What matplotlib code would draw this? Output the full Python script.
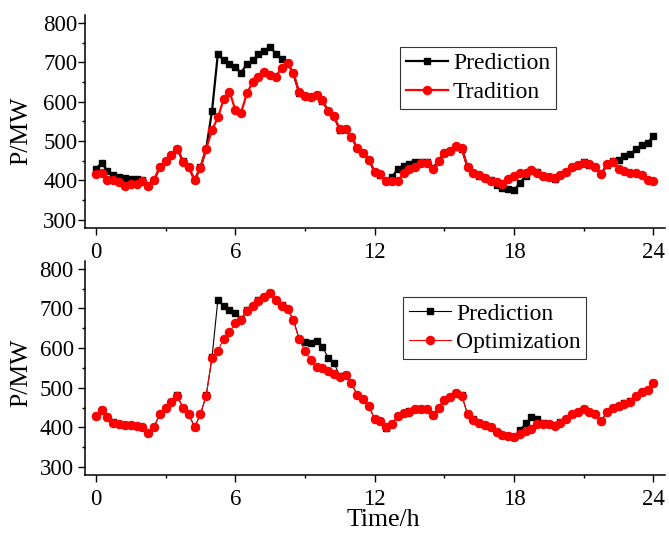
import numpy as np
import matplotlib
matplotlib.use("Agg")
import matplotlib.pyplot as plt
from matplotlib.ticker import MultipleLocator

plt.rcParams['font.family'] = ['Liberation Serif', 'DejaVu Serif']

# time axis, every 15 min
hours = np.arange(97) * 0.25

prediction = [430, 444, 425, 413, 409, 406, 405, 403, 400, 385, 401, 433, 449, 465, 481, 449,
              433, 401, 433, 481, 577, 721, 706, 697, 688, 673, 696, 705, 721, 730, 740, 722,
              708, 698, 672, 623, 615, 613, 617, 603, 576, 563, 529, 531, 511, 482, 471, 453,
              422, 415, 399, 409, 429, 437, 441, 446, 446, 446, 431, 450, 470, 476, 486, 481,
              434, 420, 412, 406, 401, 388, 381, 378, 375, 393, 411, 426, 421, 411, 408, 405,
              413, 422, 434, 439, 446, 440, 434, 416, 440, 449, 453, 461, 466, 479, 489, 495,
              512]

tradition = [416, 420, 400, 400, 397, 387, 390, 392, 398, 386, 401, 433, 449, 464, 481, 448,
             433, 401, 432, 481, 528, 560, 606, 626, 580, 572, 621, 650, 663, 675, 668, 664,
             687, 698, 674, 624, 615, 612, 616, 604, 577, 563, 530, 531, 511, 483, 471, 453,
             422, 416, 398, 398, 398, 419, 429, 434, 444, 444, 430, 449, 470, 476, 487, 482,
             435, 420, 414, 407, 398, 397, 390, 403, 412, 418, 420, 426, 418, 412, 409, 407,
             415, 422, 435, 439, 445, 441, 435, 416, 441, 447, 430, 425, 420, 418, 414, 402,
             398]

optimization = [430, 444, 425, 412, 408, 405, 406, 403, 400, 385, 401, 433, 449, 465, 480, 449,
                433, 401, 433, 480, 576, 592, 624, 640, 663, 672, 694, 705, 720, 730, 738, 721,
                707, 698, 671, 622, 592, 569, 553, 549, 543, 534, 528, 531, 511, 482, 472, 454,
                422, 415, 400, 408, 429, 437, 440, 446, 447, 447, 432, 450, 470, 476, 486, 480,
                433, 419, 411, 405, 402, 388, 382, 379, 376, 384, 391, 397, 409, 409, 408, 404,
                412, 422, 434, 439, 446, 440, 434, 416, 439, 449, 453, 460, 465, 479, 489, 495,
                512]

fig = plt.figure(figsize=(6.69, 5.34), dpi=100)
ax1 = fig.add_axes([0.127, 0.5736, 0.867, 0.398])
ax2 = fig.add_axes([0.127, 0.1105, 0.867, 0.401])

ax1.plot(hours, prediction, color='black', lw=1.6, marker='s', ms=4.5, label='Prediction')
ax1.plot(hours, tradition, color='red', lw=1.6, marker='o', ms=5.8, label='Tradition')

ax2.plot(hours, prediction, color='black', lw=0.8, marker='s', ms=4.5, label='Prediction')
ax2.plot(hours, optimization, color='red', lw=0.8, marker='o', ms=5.8, label='Optimization')

for ax in (ax1, ax2):
    ax.set_xlim(-0.47, 24.5)
    ax.set_ylim(280, 820)
    ax.spines['top'].set_visible(False)
    ax.spines['right'].set_visible(False)
    ax.spines['left'].set_linewidth(1.1)
    ax.spines['bottom'].set_linewidth(1.1)
    ax.set_xticks([0, 6, 12, 18, 24])
    ax.xaxis.set_minor_locator(MultipleLocator(3))
    ax.set_yticks([300, 400, 500, 600, 700, 800])
    ax.yaxis.set_minor_locator(MultipleLocator(50))
    ax.tick_params(which='major', direction='out', length=5, width=1, labelsize=16.5)
    ax.tick_params(which='minor', direction='out', length=2.5, width=1)
    ax.tick_params(axis='x', which='major', pad=5)
    ax.set_ylabel('P/MW', fontsize=18.5)
    leg = ax.legend(loc='upper left', fontsize=17, frameon=True, fancybox=False,
                    edgecolor='black', handlelength=1.8, handletextpad=0.2,
                    borderpad=0.25, labelspacing=0.3, borderaxespad=0)
    leg.get_frame().set_linewidth(0.8)

ax1.tick_params(axis='y', which='major', pad=0.5)
ax2.tick_params(axis='y', which='major', pad=3)
ax1.yaxis.set_label_coords(-0.09, 0.455)
ax2.yaxis.set_label_coords(-0.09, 0.478)

ax1.get_legend().set_bbox_to_anchor((0.543, 0.85))
ax2.get_legend().set_bbox_to_anchor((0.548, 0.83))

ax2.set_xlabel('Time/h', fontsize=18.5)
ax2.xaxis.set_label_coords(0.514, -0.16)

fig.savefig('out.png', dpi=100)
